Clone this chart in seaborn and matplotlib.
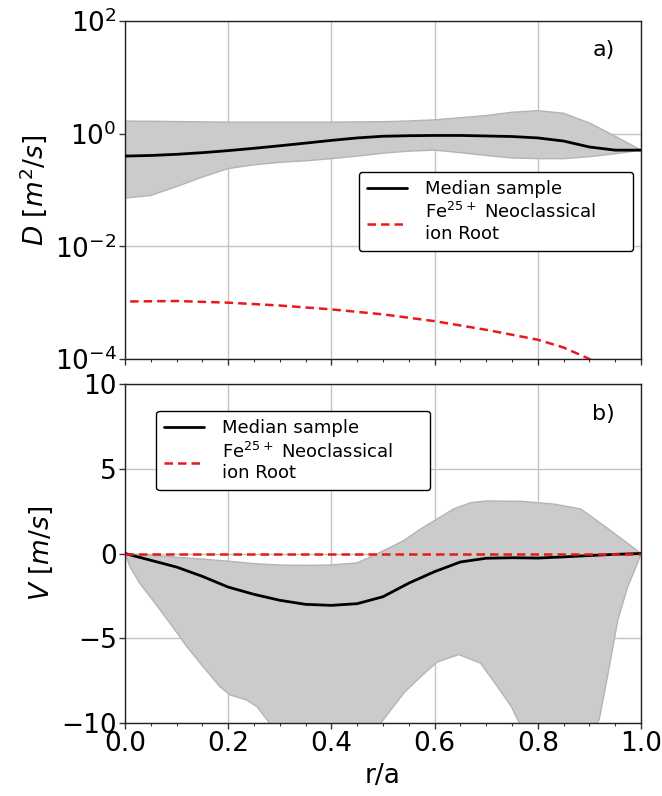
import numpy as np
import pandas as pd
import matplotlib
matplotlib.use("Agg")
import matplotlib.pyplot as plt
from matplotlib.ticker import MultipleLocator, NullLocator, LogLocator
import seaborn as sns

# ---------------- data ----------------
r_D = [0.0, 0.05, 0.1, 0.15, 0.2, 0.25, 0.3, 0.35, 0.4, 0.45, 0.5, 0.55, 0.6,
       0.65, 0.7, 0.75, 0.8, 0.85, 0.9, 0.95, 1.0]
D_median = [0.40, 0.41, 0.43, 0.46, 0.50, 0.55, 0.61, 0.68, 0.76, 0.84, 0.90,
            0.92, 0.93, 0.93, 0.91, 0.89, 0.84, 0.74, 0.58, 0.51, 0.51]
D_upper = [1.67, 1.66, 1.64, 1.62, 1.60, 1.60, 1.60, 1.60, 1.60, 1.62, 1.63,
           1.68, 1.76, 1.92, 2.10, 2.40, 2.56, 2.30, 1.55, 0.90, 0.51]
D_lower = [0.072, 0.08, 0.115, 0.17, 0.24, 0.28, 0.31, 0.33, 0.36, 0.40, 0.45,
           0.49, 0.51, 0.46, 0.41, 0.37, 0.36, 0.36, 0.39, 0.44, 0.51]

r_Dnc = [0.01, 0.1, 0.2, 0.3, 0.4, 0.5, 0.6, 0.7, 0.8, 0.85, 0.9, 0.95, 1.0]
D_neo = [1.05e-3, 1.07e-3, 1.0e-3, 8.9e-4, 7.6e-4, 6.2e-4, 4.7e-4, 3.3e-4,
         2.2e-4, 1.6e-4, 1.0e-4, 5.5e-5, 2.5e-5]

r_V = [0.0, 0.05, 0.1, 0.15, 0.2, 0.25, 0.3, 0.35, 0.4, 0.45, 0.5, 0.55, 0.6,
       0.65, 0.7, 0.75, 0.8, 0.85, 0.9, 0.95, 1.0]
V_median = [0.0, -0.4, -0.8, -1.35, -1.98, -2.41, -2.76, -3.0, -3.06, -2.96,
            -2.55, -1.75, -1.07, -0.5, -0.28, -0.25, -0.27, -0.2, -0.12, -0.05, 0.0]

r_Vup = [0.0, 0.05, 0.1, 0.15, 0.2, 0.25, 0.3, 0.35, 0.4, 0.45, 0.476, 0.508,
         0.54, 0.573, 0.605, 0.637, 0.67, 0.70, 0.767, 0.83, 0.883, 0.928,
         0.967, 1.0]
V_upper = [0.0, -0.1, -0.22, -0.33, -0.45, -0.6, -0.68, -0.7, -0.68, -0.55,
           -0.2, 0.27, 0.76, 1.45, 2.04, 2.63, 3.0, 3.1, 3.08, 2.92, 2.63, 1.65,
           0.76, 0.0]

r_Vlo = [0.0, 0.01, 0.029, 0.054, 0.087, 0.12, 0.152, 0.184, 0.204, 0.236,
         0.256, 0.28, 0.32, 0.4, 0.47, 0.501, 0.54, 0.573, 0.605, 0.647, 0.689,
         0.722, 0.748, 0.761, 0.8, 0.86, 0.919, 0.935, 0.955, 0.974, 0.993, 1.0]
V_lower = [0.0, -0.8, -1.78, -2.76, -4.1, -5.5, -6.7, -7.86, -8.35, -8.65,
           -9.04, -10.0, -11.5, -13.0, -11.0, -9.8, -8.24, -7.27, -6.4, -5.96,
           -6.47, -7.86, -9.0, -9.8, -12.0, -12.5, -9.8, -7.27, -3.94, -1.98,
           -0.6, 0.0]

r_Vnc = [0.0, 0.2, 0.4, 0.6, 0.8, 1.0]
V_neo = [0.0, 0.0, 0.0, 0.0, 0.0, 0.0]

x_ticks = [0.0, 0.2, 0.4, 0.6, 0.8, 1.0]
x_ticklabels = ["0.0", "0.2", "0.4", "0.6", "0.8", "1.0"]
V_ticks = [-10, -5, 0, 5, 10]

lbl_med = "Median sample"
lbl_neo = "Fe$^{25+}$ Neoclassical\nion Root"

# ---------------- style ----------------
sns.set_theme(style="ticks")
plt.rcParams["font.family"] = ["DejaVu Sans"]
plt.rcParams["mathtext.fontset"] = "dejavusans"
for k in ("text.color", "axes.labelcolor", "xtick.color", "ytick.color"):
    plt.rcParams[k] = "black"

fig = plt.figure(figsize=(6.62, 7.96), dpi=100)
L, R = 125 / 662, 641 / 662
ax1 = fig.add_axes([L, 1 - 359 / 796, R - L, (359 - 21) / 796])
ax2 = fig.add_axes([L, 1 - 723 / 796, R - L, (723 - 384) / 796])

band_c = "#cbcbcb"
band_e = "#b4b4b4"

# ---- top panel ----
ax1.fill(list(r_D) + list(r_D)[::-1], list(D_upper) + list(D_lower)[::-1],
         facecolor=band_c, edgecolor=band_e, lw=1, zorder=2)
sns.lineplot(x=r_D, y=D_median, ax=ax1, color="black", lw=2, label=lbl_med, zorder=4)
sns.lineplot(x=r_Dnc, y=D_neo, ax=ax1, color="#e8191c", lw=1.8, label=lbl_neo, zorder=4)
ax1.lines[-1].set_linestyle((0, (3.4, 2.0)))
ax1.set_yscale("log")
ax1.set_ylim(1e-4, 1e2)
ax1.yaxis.set_major_locator(LogLocator(base=100))
ax1.yaxis.set_minor_locator(NullLocator())
ax1.set_ylabel("$D\\ [m^2/s]$", fontsize=19)

# ---- bottom panel ----
ax2.fill(list(r_Vup) + list(r_Vlo)[::-1], list(V_upper) + list(V_lower)[::-1],
         facecolor=band_c, edgecolor=band_e, lw=1, zorder=2)
sns.lineplot(x=r_V, y=V_median, ax=ax2, color="black", lw=2, label=lbl_med, zorder=4)
sns.lineplot(x=r_Vnc, y=V_neo, ax=ax2, color="#e8191c", lw=1.8, label=lbl_neo, zorder=4)
ax2.lines[-1].set_linestyle((0, (3.4, 2.0)))
ax2.set_ylim(-10, 10)
ax2.set_yticks(V_ticks)
ax2.set_ylabel("$V\\ [m/s]$", fontsize=19)
ax2.set_xlabel("r/a", fontsize=19)

for ax in (ax1, ax2):
    ax.set_xlim(0, 1)
    ax.set_xticks(x_ticks)
    ax.xaxis.set_minor_locator(MultipleLocator(0.05))
    ax.grid(True, which="major", color="#c4c4c4", lw=1, zorder=0)
    ax.set_axisbelow(True)
    ax.tick_params(axis="both", which="major", labelsize=19, direction="out",
                   length=4, width=1, color="#333333", pad=2)
    ax.tick_params(axis="x", which="minor", length=2.5, width=0.8, color="#333333")
    for s in ax.spines.values():
        s.set_color("#222222")
        s.set_linewidth(1.0)

ax1.set_xticklabels([])
ax2.set_xticklabels(x_ticklabels)

leg_kw = dict(loc="upper left", mode="expand", borderaxespad=0, fontsize=13,
              frameon=True, fancybox=True, framealpha=1, edgecolor="black",
              handlelength=2.2, handletextpad=1.0, borderpad=0.45,
              labelspacing=0.25)
leg1 = ax1.legend(bbox_to_anchor=(0.453, 0.323, 0.532, 0.231), **leg_kw)
leg1.get_frame().set_linewidth(1.0)
leg2 = ax2.legend(bbox_to_anchor=(0.06, 0.689, 0.532, 0.232), **leg_kw)
leg2.get_frame().set_linewidth(1.0)

ax1.text(0.928, 0.913, "a)", transform=ax1.transAxes, fontsize=16,
         ha="center", va="center")
ax2.text(0.928, 0.911, "b)", transform=ax2.transAxes, fontsize=16,
         ha="center", va="center")

fig.savefig("out.png", dpi=100)
